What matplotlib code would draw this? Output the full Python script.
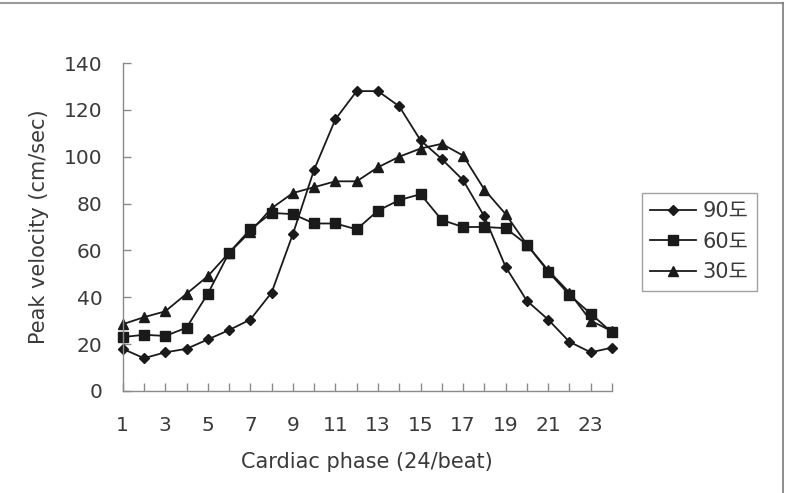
import matplotlib
matplotlib.use("Agg")
import matplotlib.pyplot as plt
from matplotlib.lines import Line2D

plt.rcParams['font.family'] = ['DejaVu Sans', 'Noto Sans CJK KR']

# cardiac phase (24 per beat)
phase = list(range(1, 25))
v90 = [18, 14, 16.5, 18, 22, 26, 30.5, 42, 67, 94.5, 116, 128,
       128, 121.5, 107, 99, 90, 74.5, 53, 38.5, 30.5, 21, 16.5, 18.5]
v60 = [23, 24, 23.5, 27, 41.5, 59, 69, 76, 75.5, 71.5, 71.5, 69,
       77, 81.5, 84, 73, 70, 70, 69.5, 62.5, 51, 41, 33, 25]
v30 = [28.5, 31.5, 34, 41.5, 49, 59, 68, 78, 84.5, 87, 89.5, 89.5,
       95.5, 100, 103.5, 105.5, 100.5, 86, 75.5, 62.5, 51.5, 42, 30, 25.5]
labels = ['90도', '60도', '30도']
yticks = [0, 20, 40, 60, 80, 100, 120, 140]
xticklabels = [str(i) if i % 2 == 1 else '' for i in phase]

ink = '#1a1a1a'
txt = '#3a3a3a'
axc = '#8a8a8a'

fig = plt.figure(figsize=(7.86, 4.93), dpi=100)
ax = fig.add_axes([0.1561, 0.2069, 0.6225, 0.6653])

ax.plot(phase, v90, color=ink, lw=1.3, marker='D', ms=5.5, label=labels[0])
ax.plot(phase, v60, color=ink, lw=1.3, marker='s', ms=7.5, label=labels[1])
ax.plot(phase, v30, color=ink, lw=1.3, marker='^', ms=7.5, label=labels[2])

ax.set_xlim(1, 24)
ax.set_ylim(0, 140)
ax.set_yticks(yticks)
ax.set_xticks(phase)
ax.set_xticklabels(xticklabels)

for s in ['top', 'right']:
    ax.spines[s].set_visible(False)
for s in ['left', 'bottom']:
    ax.spines[s].set_color(axc)
    ax.spines[s].set_linewidth(1.0)

ax.tick_params(direction='in', length=6, width=1.0, color=axc,
               labelsize=14.5, labelcolor=txt)
ax.tick_params(axis='y', pad=14.5)
ax.tick_params(axis='x', pad=18)

ax.set_xlabel('Cardiac phase (24/beat)', fontsize=15, color=txt, labelpad=12)
ax.set_ylabel('Peak velocity (cm/sec)', fontsize=15, color=txt, labelpad=11)

for ln in ax.lines:
    ln.set_clip_on(False)

leg = fig.legend(loc='upper left', bbox_to_anchor=(0.8168, 0.6085),
                 fontsize=15, frameon=True, fancybox=False,
                 handlelength=2.2, handletextpad=0.3, borderpad=0.4,
                 labelspacing=0.5, borderaxespad=0)
leg.get_frame().set_edgecolor(axc)
leg.get_frame().set_linewidth(1.0)
for t in leg.get_texts():
    t.set_color(txt)

# outer frame lines (top and right)
fig.add_artist(Line2D([0, 783 / 786], [1 - 3 / 493, 1 - 3 / 493],
                      transform=fig.transFigure, color='#9a9a9a', lw=1.5))
fig.add_artist(Line2D([783 / 786, 783 / 786], [1 - 3 / 493, 0],
                      transform=fig.transFigure, color='#7a7a7a', lw=1.2))

fig.savefig('out.png', dpi=100)
